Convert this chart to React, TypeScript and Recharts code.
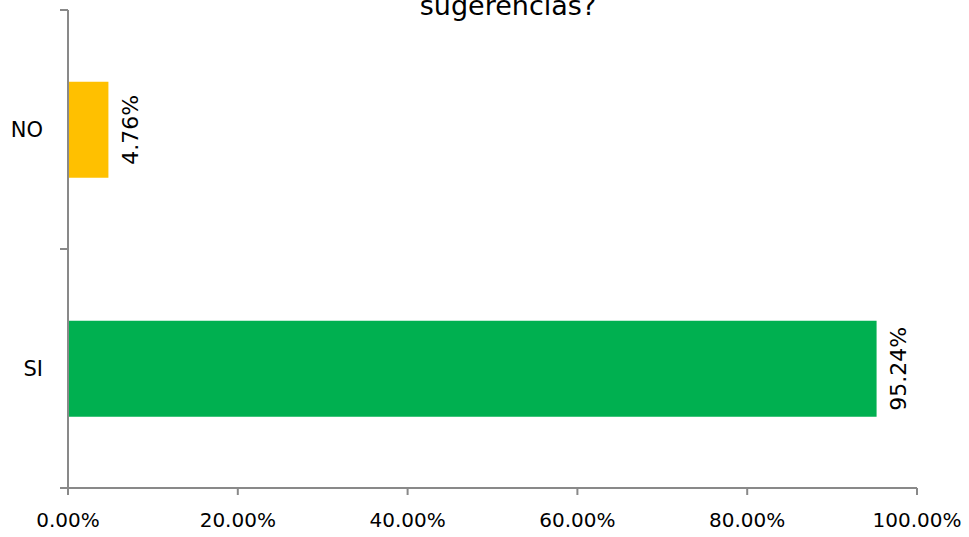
import { BarChart, Bar, XAxis, YAxis, Cell, LabelList } from 'recharts'

const categories = ['NO', 'SI']
const shares = [0.0476, 0.9524]
const barColors = ['#FFC000', '#00B050']
const xTicks = [0, 0.2, 0.4, 0.6, 0.8, 1]
const titleText = 'sugerencias?'

const data = categories.map((name, i) => ({ name, value: shares[i] }))

const AXIS = '#898989'
const FONT = '"DejaVu Sans", sans-serif'

const pct = (v: number) => `${(v * 100).toFixed(2)}%`

// category name in the band centre, tick marks on the band edges
function BandTick(props: any) {
  const { x, y, payload } = props
  const half = payload.offset ?? 0
  return (
    <g>
      <line x1={x - 8} x2={x} y1={y - half} y2={y - half} stroke={AXIS} strokeWidth={2} />
      <line x1={x - 8} x2={x} y1={y + half} y2={y + half} stroke={AXIS} strokeWidth={2} />
      <text x={x - 25} y={y} dy={7} textAnchor="end" fontSize={21} fontFamily={FONT} fill="#000">
        {payload.value}
      </text>
    </g>
  )
}

function ValueLabel(props: any) {
  const { x, y, width, height, value } = props
  const cx = x + width + 22
  const cy = y + height / 2
  return (
    <text
      x={cx}
      y={cy}
      transform={`rotate(-90 ${cx} ${cy})`}
      textAnchor="middle"
      dominantBaseline="central"
      fontSize={22}
      fontFamily={FONT}
      fill="#000"
    >
      {pct(value)}
    </text>
  )
}

export default function App() {
  return (
    <div style={{ position: 'absolute', left: 0, top: 0, width: 969, height: 537, background: '#fff' }}>
      <svg width={969} height={40} style={{ position: 'absolute', left: 0, top: 0 }}>
        <text x={508} y={15} textAnchor="middle" fontSize={27} fontFamily={FONT} fill="#000">
          {titleText}
        </text>
      </svg>
      <BarChart
        width={969}
        height={537}
        data={data}
        layout="vertical"
        barCategoryGap="30%"
        margin={{ top: 10, right: 52, bottom: 0, left: 0 }}
      >
        <XAxis
          type="number"
          domain={[0, 1]}
          ticks={xTicks}
          tickFormatter={pct}
          height={49}
          tickSize={7}
          tickMargin={18}
          axisLine={{ stroke: AXIS, strokeWidth: 2 }}
          tickLine={{ stroke: AXIS, strokeWidth: 2 }}
          tick={{ fontSize: 20, fontFamily: FONT, fill: '#000' }}
          interval={0}
        />
        <YAxis
          type="category"
          dataKey="name"
          width={68}
          tickSize={0}
          tickMargin={0}
          tickLine={false}
          axisLine={{ stroke: AXIS, strokeWidth: 2 }}
          tick={<BandTick />}
          interval={0}
        />
        <Bar dataKey="value" isAnimationActive={false}>
          {data.map((_, i) => (
            <Cell key={i} fill={barColors[i]} />
          ))}
          <LabelList dataKey="value" content={<ValueLabel />} />
        </Bar>
      </BarChart>
    </div>
  )
}
